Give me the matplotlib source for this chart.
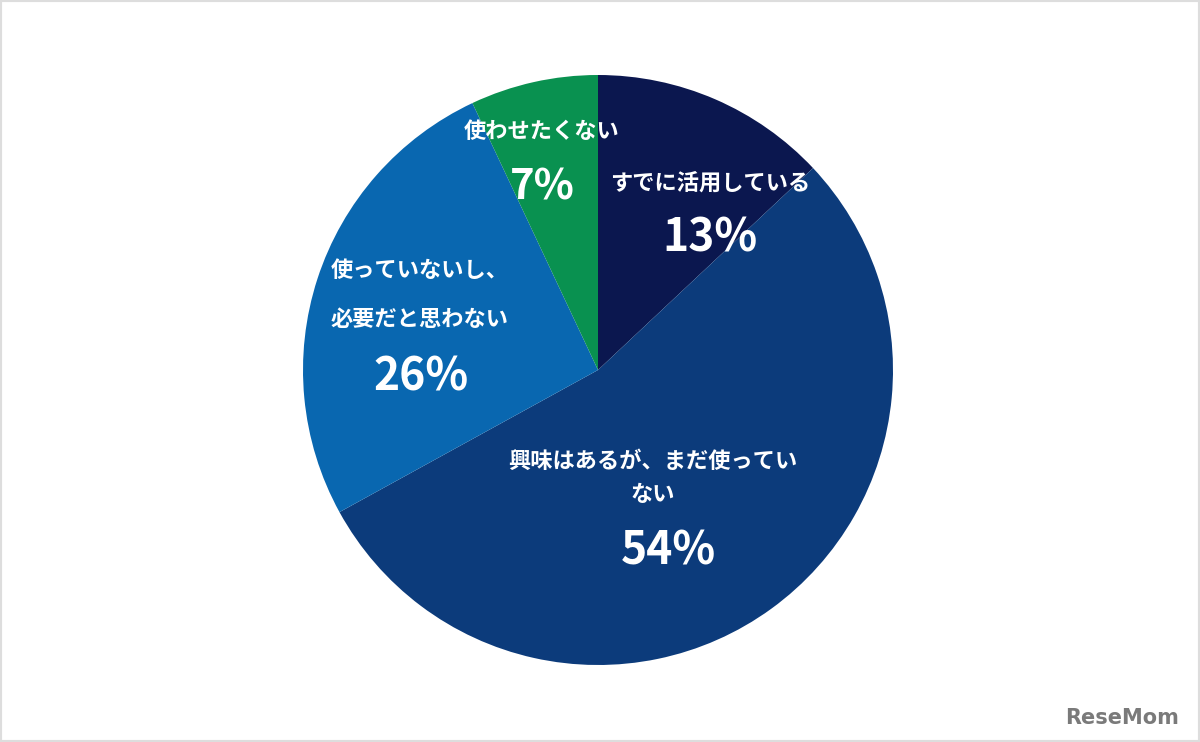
import matplotlib
matplotlib.use('Agg')
import matplotlib.pyplot as plt
from matplotlib.patches import Rectangle

plt.rcParams['font.family'] = ['Noto Sans CJK JP', 'DejaVu Sans']

labels = ['すでに活用している', '興味はあるが、まだ使ってい\nない', '使っていないし、\n必要だと思わない', '使わせたくない']
values = [13, 54, 26, 7]
colors = ['#0b174f', '#0c3b7b', '#0967b0', '#099150']

# label / percent positions in pie units (center 0,0, radius 1)
label_pos = [(0.38, 0.634), (0.185, -0.366), (-0.605, 0.254), (-0.19, 0.81)]
label_spacing = [1.6, 1.6, 2.4, 1.6]
pct_pos = [(0.38, 0.447), (0.24, -0.614), (-0.60, -0.024), (-0.19, 0.617)]
pct_size = [32, 32, 32, 30]

fig = plt.figure(figsize=(12, 7.42), dpi=100)
ax = fig.add_axes([303 / 1200, 77 / 742, 590 / 1200, 590 / 742])
ax.pie(values, colors=colors, startangle=90, counterclock=False, radius=1,
       wedgeprops=dict(linewidth=0))
ax.set_xlim(-1, 1)
ax.set_ylim(-1, 1)
ax.set_aspect('equal')
ax.set_axis_off()

for lab, (lx, ly), ls, (px, py), v, fs in zip(labels, label_pos, label_spacing, pct_pos, values, pct_size):
    ax.text(lx, ly, lab, color='white', fontsize=16, fontweight='bold',
            ha='center', va='center', linespacing=ls)
    ax.text(px, py, '%d%%' % v, color='white', fontsize=fs, fontweight='bold',
            ha='center', va='center')

fig.text(1122 / 1200, 1 - 718 / 742, 'ReseMom', color='#7a7a7a', fontsize=15,
         fontweight='bold', ha='center', va='center', family='DejaVu Sans')

fig.patches.append(Rectangle((0, 0), 1, 1, transform=fig.transFigure, fill=False,
                             edgecolor='#dddddd', linewidth=3))

fig.savefig('out.png', dpi=100, facecolor='white')
